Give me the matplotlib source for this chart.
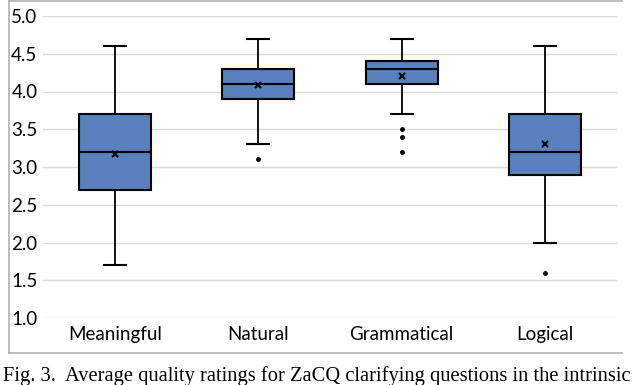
import matplotlib
matplotlib.use("Agg")
import matplotlib.pyplot as plt
from matplotlib.lines import Line2D

# values
categories = ["Meaningful", "Natural", "Grammatical", "Logical"]
whisker_lo = [1.7, 3.3, 3.7, 2.0]
q1 = [2.7, 3.9, 4.1, 2.9]
median = [3.2, 4.1, 4.3, 3.2]
q3 = [3.7, 4.3, 4.4, 3.7]
whisker_hi = [4.6, 4.7, 4.7, 4.6]
means = [3.17, 4.08, 4.2, 3.3]
outliers = [[], [3.1], [3.5, 3.4, 3.2], [1.6]]

caption = ("Fig. 3.  Average quality ratings for ZaCQ clarifying "
           "questions in the intrinsic")

BOX_COLOR = "#5880BC"
GRID_COLOR = "#D9D9D9"

stats = []
for i, name in enumerate(categories):
    stats.append({"label": name, "whislo": whisker_lo[i], "q1": q1[i],
                  "med": median[i], "q3": q3[i], "whishi": whisker_hi[i],
                  "mean": means[i], "fliers": outliers[i]})

fig = plt.figure(figsize=(6.4, 3.85), dpi=100)
ax = fig.add_axes([43 / 640, 1 - 318 / 385, 574 / 640, 302 / 385])

ax.bxp(stats, positions=range(len(categories)), widths=0.5,
       patch_artist=True, showmeans=True,
       boxprops=dict(facecolor=BOX_COLOR, edgecolor="black", linewidth=1.5),
       medianprops=dict(color="black", linewidth=1.5),
       whiskerprops=dict(color="black", linewidth=1.3),
       capprops=dict(color="black", linewidth=1.5),
       capwidths=0.15,
       meanprops=dict(marker="x", markeredgecolor="black", markersize=4,
                      markeredgewidth=1.5),
       flierprops=dict(marker="o", markerfacecolor="black",
                       markeredgecolor="black", markersize=2.5))

ax.set_xlim(-0.5, len(categories) - 0.5)
ax.set_ylim(1.0, 5.0)
ax.set_yticks([1.0, 1.5, 2.0, 2.5, 3.0, 3.5, 4.0, 4.5, 5.0])
ax.set_yticklabels([f"{v:.1f}" for v in ax.get_yticks()])
ax.yaxis.grid(True, color=GRID_COLOR, linewidth=1.0)
ax.set_axisbelow(True)
for s in ax.spines.values():
    s.set_visible(False)
ax.tick_params(axis="both", length=0, labelsize=13.5)
ax.tick_params(axis="y", pad=4)
ax.tick_params(axis="x", pad=6)
for lab in ax.get_xticklabels() + ax.get_yticklabels():
    lab.set_fontfamily("Lato")

# light frame round the chart (left, top, bottom)
frame_kw = dict(color="#B0B0B0", linewidth=1.2, transform=fig.transFigure)
x0, x1 = 9 / 640, 622 / 640
y0, y1 = 1 - 353 / 385, 1 - 0.5 / 385
fig.add_artist(Line2D([x0, x1], [y1, y1], **frame_kw))
fig.add_artist(Line2D([x0, x1], [y0, y0], **frame_kw))
fig.add_artist(Line2D([x0, x0], [y0, y1], **frame_kw))

fig.text(3 / 640, 1 - 381.5 / 385, caption, family="Liberation Serif",
         fontsize=14.8, ha="left", va="baseline")

fig.savefig("out.png", dpi=100)
